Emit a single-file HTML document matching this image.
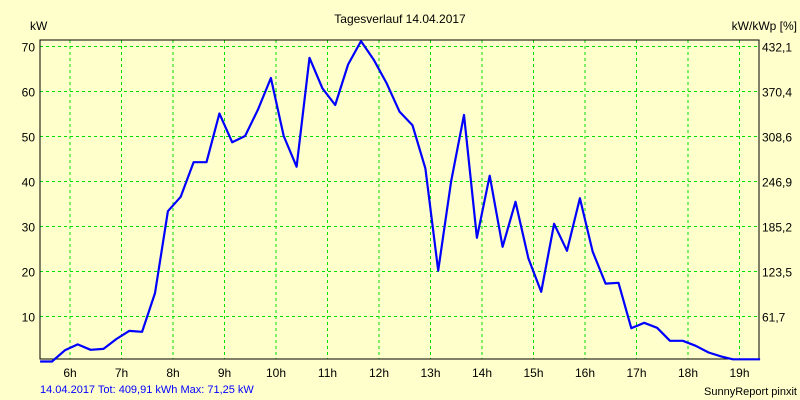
<!DOCTYPE html>
<html><head><meta charset="utf-8"><style>
html,body{margin:0;padding:0;background:#ffffcc;}
svg{display:block;font-family:"Liberation Sans",sans-serif;}
</style></head><body>
<svg id="chart" width="800" height="400" viewBox="0 0 800 400">
<rect width="800" height="400" fill="#ffffcc"/>
<text x="400" y="23" font-size="12" text-anchor="middle">Tagesverlauf 14.04.2017</text>
<text x="30" y="30" font-size="12">kW</text>
<text x="797" y="30" font-size="12" text-anchor="end">kW/kWp [%]</text>
<g id="grid"></g>
<g id="ticks"></g>
<rect x="40" y="40" width="719" height="319" fill="none" stroke="#000" stroke-width="1"/>
<polyline id="line" fill="none" stroke="#0000ff" stroke-width="2.2" stroke-linejoin="round"/>
<text x="40" y="393" font-size="11" fill="#0000ff">14.04.2017 Tot: 409,91 kWh Max: 71,25 kW</text>
<text x="797" y="395" font-size="11" text-anchor="end">SunnyReport pinxit</text>
</svg>
<script>
const hourTicks=[6,7,8,9,10,11,12,13,14,15,16,17,18,19];
const leftTicks=[10,20,30,40,50,60,70];
const rightTickLabels=["61,7","123,5","185,2","246,9","308,6","370,4","432,1"];
const times=[5.42,5.65,5.9,6.15,6.4,6.65,6.9,7.15,7.4,7.65,7.9,8.15,8.4,8.65,8.9,9.15,9.4,9.65,9.9,10.15,10.4,10.65,10.9,11.15,11.4,11.65,11.9,12.15,12.4,12.65,12.9,13.15,13.4,13.65,13.9,14.15,14.4,14.65,14.9,15.15,15.4,15.65,15.9,16.15,16.4,16.65,16.9,17.15,17.4,17.65,17.9,18.15,18.4,18.65,18.87,19.4];
const power=[0,0,2.5,3.8,2.6,2.8,5,6.8,6.6,15.2,33.4,36.6,44.3,44.3,55.1,48.7,50.1,56,63,50.1,43.3,67.5,60.7,57,66,71.2,67,61.8,55.5,52.5,42.9,20.2,40,54.8,27.5,41.3,25.5,35.5,22.9,15.5,30.6,24.6,36.3,24.4,17.3,17.5,7.4,8.6,7.5,4.6,4.6,3.5,2,1.1,0.5,0.5];
const NS="http://www.w3.org/2000/svg";
const xs=h=>70+(h-6)*51.5;
const ys=v=>361.5-v*4.5;
const grid=document.getElementById('grid'),ticks=document.getElementById('ticks');
function mk(tag,attrs,parent,txt){const e=document.createElementNS(NS,tag);for(const k in attrs)e.setAttribute(k,attrs[k]);if(txt!==undefined)e.textContent=txt;parent.appendChild(e);return e;}
hourTicks.forEach(h=>{
  const l=mk('line',{x1:xs(h),x2:xs(h),y1:40,y2:359,stroke:'#00dd00','stroke-dasharray':'3,3'},grid);
  
  
  const t=mk('text',{x:xs(h),y:377,'font-size':12,'text-anchor':'middle'},ticks,h+'h');
  
  
});
leftTicks.forEach((v,i)=>{
  const l=mk('line',{x1:40,x2:759,y1:ys(v),y2:ys(v),stroke:'#00dd00','stroke-dasharray':'3,3'},grid);
  
  
  const t=mk('text',{x:35,y:ys(v)+5,'font-size':12,'text-anchor':'end'},ticks,String(v));
  
  
  const r=mk('text',{x:762,y:ys(v)+5,'font-size':12},ticks,rightTickLabels[i]);
  
  
});
document.getElementById('line').setAttribute('points',times.map((h,i)=>xs(h).toFixed(1)+','+ys(power[i]).toFixed(1)).join(' '));
</script>
</body></html>
